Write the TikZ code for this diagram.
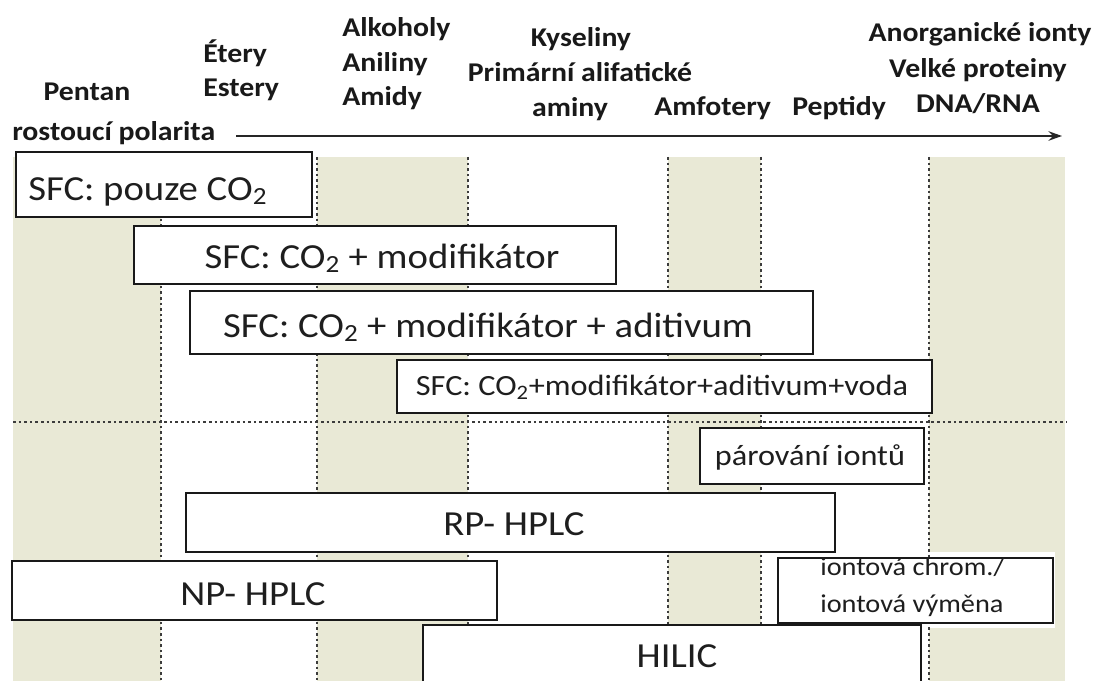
\documentclass[tikz,border=0pt]{standalone}
\usepackage{fontspec}
\setmainfont{Carlito}
\newfontfamily\cfont[FakeStretch=1.1]{Carlito}
\usetikzlibrary{fit,arrows.meta}
\definecolor{band}{RGB}{233,233,214}
\definecolor{dotc}{RGB}{60,60,60}
\definecolor{txt}{RGB}{30,30,30}
\begin{document}
\begin{tikzpicture}[x=0.75pt,y=-0.75pt,
  box/.style={draw=black!90, line width=1.4pt, fill=white, inner sep=0pt},
  hdr/.style={font=\cfont\bfseries\fontsize{20.3}{24}\selectfont, text=black!90, inner sep=0pt},
  big/.style={font=\cfont\fontsize{26.4}{30}\selectfont, text=txt, inner sep=0pt},
  mid/.style={font=\cfont\fontsize{22}{26}\selectfont, text=txt, inner sep=0pt},
  sml/.style={font=\cfont\fontsize{19.3}{23}\selectfont, text=txt, inner sep=0pt},
  dots/.style={dotc, line width=2.2pt, dash pattern=on 2pt off 2.2pt},
]
\clip (0,0) rectangle (1103,681);
\useasboundingbox (0,0) rectangle (1103,681);
\fill[white] (0,0) rectangle (1103,681);

% shaded bands
\fill[band] (13,157) rectangle (161,681);
\fill[band] (317,157) rectangle (468,681);
\fill[band] (668,157) rectangle (761,681);
\fill[band] (929,157) rectangle (1065,681);
\fill[white] (775,552) rectangle (1055,628);

% dotted grid
\foreach \xx in {161,317,468,668,761,929}
  \draw[dots] (\xx,157) -- (\xx,681);
\draw[dots] (13,422) -- (1066,422);

% header
\node[hdr, anchor=base] (pentan) at (87,101) {Pentan};
\node[hdr, anchor=base west] (etery) at (203,63) {Étery};
\node[hdr, anchor=base west] (estery) at (203,97) {Estery};
\node[hdr, anchor=base west] (alkoholy) at (342,37) {Alkoholy};
\node[hdr, anchor=base west] (aniliny) at (342,72) {Aniliny};
\node[hdr, anchor=base west] (amidy) at (342,106) {Amidy};
\node[hdr, anchor=base] (kyseliny) at (581,47) {Kyseliny};
\node[hdr, anchor=base] (primarni) at (580,82) {Primární alifatické};
\node[hdr, anchor=base] (aminy) at (570,117) {aminy};
\node[hdr, anchor=base west] (amfotery) at (654,116) {Amfotery};
\node[hdr, anchor=base west] (peptidy) at (792,116) {Peptidy};
\node[hdr, anchor=base] (anorg) at (980,42) {Anorganické ionty};
\node[hdr, anchor=base] (velke) at (978,78) {Velké proteiny};
\node[hdr, anchor=base] (dna) at (978,113) {DNA/RNA};
\node[hdr, anchor=base west] (polar) at (12,141) {rostoucí polarita};

\coordinate (as) at (236,136);
\coordinate (ae) at (1062,136);
\draw[line width=2.2pt, black!85, -{Stealth[length=10pt,width=7pt]}] (as) -- (ae);

% boxes
\node[box, fit={(16,152) (312,217)}] (b1) {};
\node[big, anchor=base west] (t1) at (28,200) {SFC: pouze CO\textsubscript{2}};

\node[box, fit={(134,226) (616,284)}] (b2) {};
\node[big, anchor=base] (t2) at (382,268) {SFC: CO\textsubscript{2} + modifikátor};

\node[box, fit={(190,291) (813,354)}] (b3) {};
\node[big, anchor=base] (t3) at (488,337) {SFC: CO\textsubscript{2} + modifikátor + aditivum};

\node[box, fit={(397,360) (932,413)}] (b4) {};
\node[mid, anchor=base] (t4) at (662,395) {SFC: CO\textsubscript{2}+modifikátor+aditivum+voda};

\node[box, fit={(700,428) (924,484)}] (b5) {};
\node[mid, anchor=base] (t5) at (810,465) {párování iontů};

\node[box, fit={(186,493) (835,552)}] (b6) {};
\node[big, anchor=base] (t6) at (514,535) {RP- HPLC};

\node[box, fit={(12,561) (497,620)}] (b7) {};
\node[big, anchor=base] (t7) at (253,605) {NP- HPLC};

\node[box, fit={(778,558) (1053,623)}] (b9) {};
\node[sml, anchor=base west] (t9a) at (820,575) {iontová chrom./};
\node[sml, anchor=base west] (t9b) at (820,612) {iontová výměna};

\node[box, fit={(423,625) (921,690)}] (b8) {};
\node[big, anchor=base] (t8) at (677,667) {HILIC};
\end{tikzpicture}
\end{document}
